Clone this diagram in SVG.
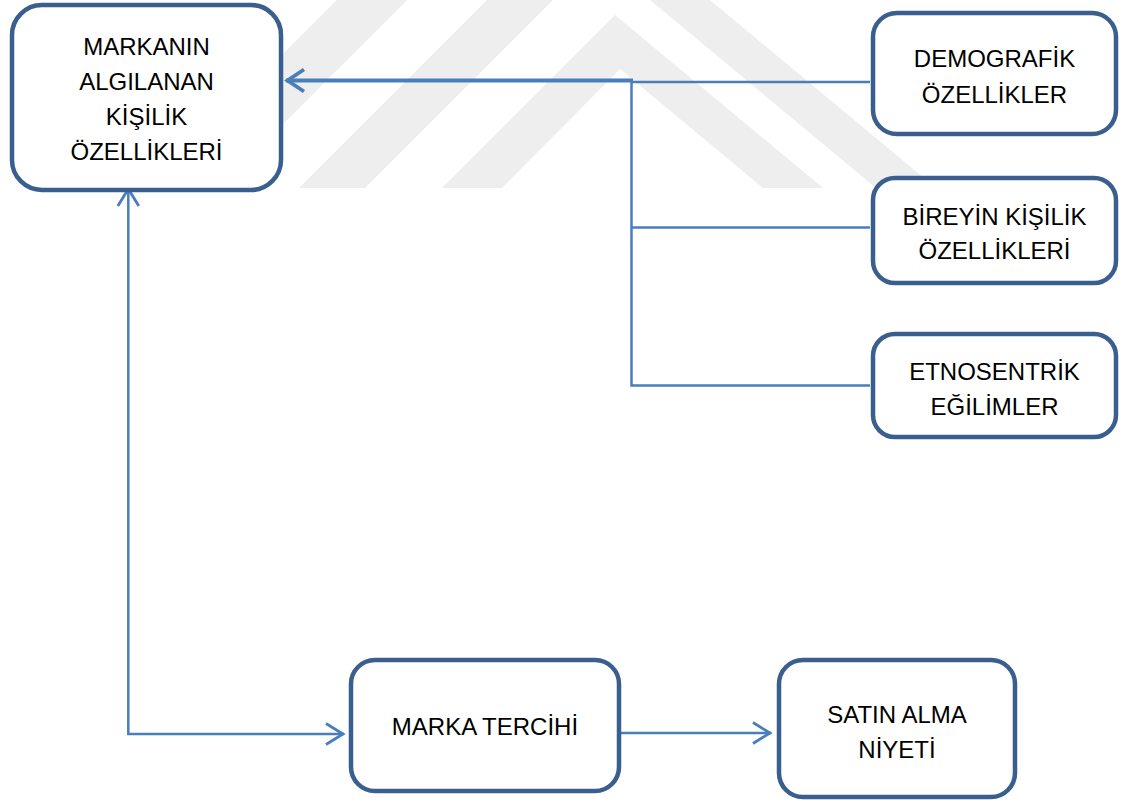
<svg xmlns="http://www.w3.org/2000/svg" width="1123" height="804" viewBox="0 0 1123 804">
<style>
.box{fill:#fff;stroke:#3A5F8E;stroke-width:4.5}
.t{font-family:"Liberation Sans",Arial,sans-serif;font-size:24px;fill:#000;text-anchor:middle}
.c{fill:none;stroke:#4A7EBB;stroke-width:2.5}
.wm{fill:#EEEEEE}
</style>
<defs>
<marker id="ah" viewBox="-22 -14 24 28" refX="0" refY="0" markerWidth="24" markerHeight="28" markerUnits="userSpaceOnUse" orient="auto-start-reverse">
<path d="M-18,-10.5 L-1,0 L-18,10.5" fill="none" stroke="#4A7EBB" stroke-width="2.8"/>
</marker>
<marker id="ahb" viewBox="-22 -14 24 28" refX="0" refY="0" markerWidth="24" markerHeight="28" markerUnits="userSpaceOnUse" orient="auto">
<path d="M-18,-11 L-1.5,0 L-18,11" fill="none" stroke="#4A7EBB" stroke-width="3.8"/>
</marker>
</defs>
<rect width="1123" height="804" fill="#fff"/>
<g id="watermark">
<polygon class="wm" points="337,0 407,0 219,188 149,188"/>
<polygon class="wm" points="487,0 553,0 365,188 299,188"/>
<polygon class="wm" points="615,15 823,188 763,188 620,69 502,188 442,188"/>
<polygon class="wm" points="650,0 710,0 936,188 876,188"/>
</g>
<g id="connectors">
<path class="c" d="M870,82 L631.5,82 L631.5,385.5 L870,385.5"/>
<path class="c" d="M631.5,227.5 L870,227.5"/>
<path d="M633,80.5 L286,80.5" fill="none" stroke="#4A7EBB" stroke-width="4" marker-end="url(#ahb)"/>
<path class="c" d="M128.3,188 L128.3,734 L344,734" marker-start="url(#ah)" marker-end="url(#ah)"/>
<path class="c" d="M618,733 L771,733" marker-end="url(#ah)"/>
</g>
<g id="n1">
<rect class="box" x="12" y="5" width="269" height="185" rx="30"/>
<text class="t" x="146.5" y="55">MARKANIN</text>
<text class="t" x="146.5" y="90">ALGILANAN</text>
<text class="t" x="146.5" y="125">KİŞİLİK</text>
<text class="t" x="146.5" y="160">ÖZELLİKLERİ</text>
</g>
<g id="n2">
<rect class="box" x="873" y="13" width="243" height="121" rx="24"/>
<text class="t" x="994.5" y="67">DEMOGRAFİK</text>
<text class="t" x="994.5" y="103">ÖZELLİKLER</text>
</g>
<g id="n3">
<rect class="box" x="873" y="178" width="243" height="105" rx="22"/>
<text class="t" x="994.5" y="225">BİREYİN KİŞİLİK</text>
<text class="t" x="994.5" y="259">ÖZELLİKLERİ</text>
</g>
<g id="n4">
<rect class="box" x="873" y="334" width="243" height="103" rx="22"/>
<text class="t" x="994.5" y="380">ETNOSENTRİK</text>
<text class="t" x="994.5" y="415">EĞİLİMLER</text>
</g>
<g id="n5">
<rect class="box" x="351" y="660" width="268" height="131" rx="24"/>
<text class="t" x="485" y="735">MARKA TERCİHİ</text>
</g>
<g id="n6">
<rect class="box" x="779" y="660" width="236" height="137" rx="24"/>
<text class="t" x="897" y="723">SATIN ALMA</text>
<text class="t" x="897" y="758">NİYETİ</text>
</g>
</svg>
